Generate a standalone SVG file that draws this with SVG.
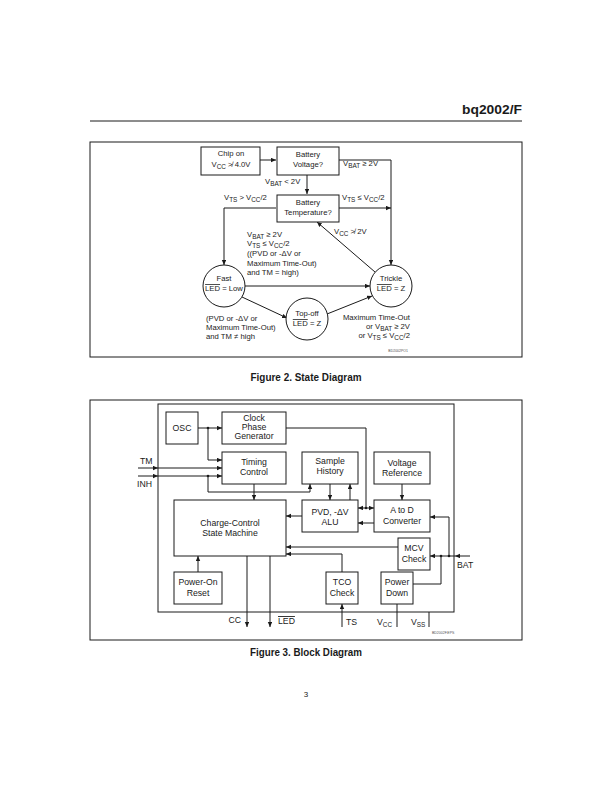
<svg xmlns="http://www.w3.org/2000/svg" width="612" height="792" viewBox="0 0 612 792">
<style>
text{font-family:"Liberation Sans",Arial,sans-serif;fill:#1a1a1a}
.s{font-size:7.7px}
.b{font-size:8.7px}
.c{text-anchor:middle}
.e{text-anchor:end}
.sub{font-size:6.4px}
.ol{text-decoration:overline}
.box{fill:#fff;stroke:#1a1a1a;stroke-width:1}
.frame{fill:none;stroke:#1a1a1a;stroke-width:1}
.w{fill:none;stroke:#1a1a1a;stroke-width:1}
.dot{fill:#1a1a1a}
.cap{font-weight:bold;font-size:10px;text-anchor:middle}
.tiny{font-size:3.5px;fill:#555}
</style>
<defs>
<marker id="a" markerUnits="userSpaceOnUse" markerWidth="6" markerHeight="6" refX="5" refY="2.2" orient="auto">
<path d="M0,0 L5,2.2 L0,4.4 z" fill="#1a1a1a"/>
</marker>
</defs>
<rect width="612" height="792" fill="#fff"/>

<g id="header">
<text x="522" y="114" font-size="13" font-weight="bold" text-anchor="end" textLength="60" lengthAdjust="spacingAndGlyphs">bq2002/F</text>
<line x1="90" y1="121" x2="522" y2="121" stroke="#1a1a1a" stroke-width="1"/>
</g>

<!-- Figure 2 -->
<rect class="frame" x="90" y="142" width="432" height="215"/>

<g id="connectors-fig2">
<path class="w" d="M260,160 H276" marker-end="url(#a)"/>
<path class="w" d="M338,160 H391 V265" marker-end="url(#a)"/>
<path class="w" d="M307,174 V194" marker-end="url(#a)"/>
<path class="w" d="M276,208 H224 V265" marker-end="url(#a)"/>
<path class="w" d="M338,208 H391" marker-end="url(#a)"/>
<path class="w" d="M245,286 H370" marker-end="url(#a)"/>
<path class="w" d="M375,272 L317,222" marker-end="url(#a)"/>
<path class="w" d="M242,297 L287,318" marker-end="url(#a)"/>
<path class="w" d="M327,314 L372,296" marker-end="url(#a)"/>
</g>

<g id="chipon">
<rect class="box" x="201" y="147" width="59" height="28"/>
<text class="s c" x="231" y="156">Chip on</text>
<text class="s c" x="231" y="167">V<tspan class="sub" dy="1.5">CC</tspan><tspan dy="-1.5"> ≯ 4.0V</tspan></text>
</g>
<g id="battvolt">
<rect class="box" x="277" y="147" width="62" height="28"/>
<text class="s c" x="308" y="157">Battery</text>
<text class="s c" x="308" y="167">Voltage?</text>
</g>
<g id="batttemp">
<rect class="box" x="277" y="195" width="62" height="27"/>
<text class="s c" x="308" y="205">Battery</text>
<text class="s c" x="308" y="215">Temperature?</text>
</g>
<g id="fast">
<circle class="box" cx="224" cy="286" r="21"/>
<text class="s c" x="224" y="281">Fast</text>
<text class="s c" x="224" y="291"><tspan class="ol">LED</tspan> = Low</text>
</g>
<g id="trickle">
<circle class="box" cx="391" cy="286" r="21"/>
<text class="s c" x="391" y="281">Trickle</text>
<text class="s c" x="391" y="291"><tspan class="ol">LED</tspan> = Z</text>
</g>
<g id="topoff">
<circle class="box" cx="307" cy="319" r="21"/>
<text class="s c" x="307" y="316">Top-off</text>
<text class="s c" x="307" y="326"><tspan class="ol">LED</tspan> = Z</text>
</g>

<g id="labels-fig2">
<text class="s" x="343" y="166">V<tspan class="sub" dy="1.5">BAT</tspan><tspan dy="-1.5"> ≥ 2V</tspan></text>
<text class="s" x="265" y="184">V<tspan class="sub" dy="1.5">BAT</tspan><tspan dy="-1.5"> &lt; 2V</tspan></text>
<text class="s" x="224" y="200">V<tspan class="sub" dy="1.5">TS</tspan><tspan dy="-1.5"> &gt; V</tspan><tspan class="sub" dy="1.5">CC</tspan><tspan dy="-1.5">/2</tspan></text>
<text class="s" x="342" y="200">V<tspan class="sub" dy="1.5">TS</tspan><tspan dy="-1.5"> ≤ V</tspan><tspan class="sub" dy="1.5">CC</tspan><tspan dy="-1.5">/2</tspan></text>
<text class="s" x="334" y="234">V<tspan class="sub" dy="1.5">CC</tspan><tspan dy="-1.5"> ≯ 2V</tspan></text>
<text class="s" x="247" y="237">V<tspan class="sub" dy="1.5">BAT</tspan><tspan dy="-1.5"> ≥ 2V</tspan></text>
<text class="s" x="247" y="246">V<tspan class="sub" dy="1.5">TS</tspan><tspan dy="-1.5"> ≤ V</tspan><tspan class="sub" dy="1.5">CC</tspan><tspan dy="-1.5">/2</tspan></text>
<text class="s" x="247" y="256">((PVD or -ΔV or</text>
<text class="s" x="247" y="266">Maximum Time-Out)</text>
<text class="s" x="247" y="275">and TM = high)</text>
<text class="s" x="206" y="321">(PVD or -ΔV or</text>
<text class="s" x="206" y="330">Maximum Time-Out)</text>
<text class="s" x="206" y="339">and TM ≠ high</text>
<text class="s e" x="410" y="320">Maximum Time-Out</text>
<text class="s e" x="410" y="329">or  V<tspan class="sub" dy="1.5">BAT</tspan><tspan dy="-1.5"> ≥ 2V</tspan></text>
<text class="s e" x="410" y="338">or V<tspan class="sub" dy="1.5">TS</tspan><tspan dy="-1.5"> ≤ V</tspan><tspan class="sub" dy="1.5">CC</tspan><tspan dy="-1.5">/2</tspan></text>
<text class="tiny e" x="408" y="352">BD2002PO1</text>
</g>

<text class="cap" x="306" y="381" textLength="111" lengthAdjust="spacingAndGlyphs">Figure 2. State Diagram</text>

<!-- Figure 3 -->
<rect class="frame" x="90" y="400" width="432" height="240"/>
<rect class="frame" x="158" y="404" width="296" height="208"/>

<g id="connectors-fig3">
<path class="w" d="M198,428 H222" marker-end="url(#a)"/>
<path class="w" d="M208,428 V460 H222" marker-end="url(#a)"/>
<circle class="dot" cx="208" cy="428" r="1.3"/>
<path class="w" d="M138,468 H158" marker-end="url(#a)"/>
<path class="w" d="M158,468 H222" marker-end="url(#a)"/>
<path class="w" d="M138,476 H158" marker-end="url(#a)"/>
<path class="w" d="M158,476 H222" marker-end="url(#a)"/>
<path class="w" d="M208,476 V492 H310 V484" marker-end="url(#a)"/>
<circle class="dot" cx="208" cy="476" r="1.3"/>
<path class="w" d="M286,428 H366 V508"/>
<path class="w" d="M366,508 H358" marker-end="url(#a)"/>
<path class="w" d="M366,508 H374" marker-end="url(#a)"/>
<circle class="dot" cx="366" cy="508" r="1.3"/>
<path class="w" d="M254,484 V500" marker-end="url(#a)"/>
<path class="w" d="M330,484 V500" marker-end="url(#a)"/>
<path class="w" d="M350,500 V484" marker-end="url(#a)"/>
<path class="w" d="M402,484 V500" marker-end="url(#a)"/>
<path class="w" d="M302,516 H286" marker-end="url(#a)"/>
<path class="w" d="M374,523 H358" marker-end="url(#a)"/>
<path class="w" d="M470,556 H455" marker-end="url(#a)"/>
<path class="w" d="M455,556 H430" marker-end="url(#a)"/>
<path class="w" d="M449,556 V517 H430" marker-end="url(#a)"/>
<path class="w" d="M441,556 V584 H413"/>
<circle class="dot" cx="449" cy="556" r="1.3"/>
<circle class="dot" cx="441" cy="556" r="1.3"/>
<path class="w" d="M398,547 H286" marker-end="url(#a)"/>
<path class="w" d="M342,572 V554 H286" marker-end="url(#a)"/>
<path class="w" d="M198,572 V556" marker-end="url(#a)"/>
<path class="w" d="M247,556 V627" marker-end="url(#a)"/>
<path class="w" d="M270,556 V627" marker-end="url(#a)"/>
<path class="w" d="M342,627 V604" marker-end="url(#a)"/>
<path class="w" d="M397,604 V627"/>
<path class="w" d="M429,612 V627"/>
</g>

<g id="osc">
<rect class="box" x="166" y="412" width="32" height="32"/>
<text class="b c" x="182" y="431">OSC</text>
</g>
<g id="cpg">
<rect class="box" x="222" y="412" width="64" height="32"/>
<text class="b c" x="254" y="421">Clock</text>
<text class="b c" x="254" y="430">Phase</text>
<text class="b c" x="254" y="439">Generator</text>
</g>
<g id="timing">
<rect class="box" x="222" y="452" width="64" height="32"/>
<text class="b c" x="254" y="465">Timing</text>
<text class="b c" x="254" y="475">Control</text>
</g>
<g id="sample">
<rect class="box" x="302" y="452" width="56" height="32"/>
<text class="b c" x="330" y="464">Sample</text>
<text class="b c" x="330" y="474">History</text>
</g>
<g id="vref">
<rect class="box" x="374" y="452" width="56" height="32"/>
<text class="b c" x="402" y="466">Voltage</text>
<text class="b c" x="402" y="476">Reference</text>
</g>
<g id="ccsm">
<rect class="box" x="174" y="500" width="112" height="56"/>
<text class="b c" x="230" y="526">Charge-Control</text>
<text class="b c" x="230" y="536">State Machine</text>
</g>
<g id="alu">
<rect class="box" x="302" y="500" width="56" height="32"/>
<text class="b c" x="330" y="515">PVD, -ΔV</text>
<text class="b c" x="330" y="525">ALU</text>
</g>
<g id="adc">
<rect class="box" x="374" y="500" width="56" height="32"/>
<text class="b c" x="402" y="513">A to D</text>
<text class="b c" x="402" y="524">Converter</text>
</g>
<g id="mcv">
<rect class="box" x="398" y="538" width="32" height="32"/>
<text class="b c" x="414" y="551">MCV</text>
<text class="b c" x="414" y="562">Check</text>
</g>
<g id="por">
<rect class="box" x="174" y="572" width="48" height="32"/>
<text class="b c" x="198" y="585">Power-On</text>
<text class="b c" x="198" y="596">Reset</text>
</g>
<g id="tco">
<rect class="box" x="326" y="572" width="32" height="32"/>
<text class="b c" x="342" y="585">TCO</text>
<text class="b c" x="342" y="596">Check</text>
</g>
<g id="pdown">
<rect class="box" x="381" y="572" width="32" height="32"/>
<text class="b c" x="397" y="585">Power</text>
<text class="b c" x="397" y="596">Down</text>
</g>

<g id="labels-fig3">
<text class="b" x="140" y="464">TM</text>
<text class="b" x="137" y="487">INH</text>
<text class="b" x="457" y="568">BAT</text>
<text class="b e" x="241" y="623">CC</text>
<text class="b" x="278" y="624"><tspan class="ol">LED</tspan></text>
<text class="b" x="346" y="625">TS</text>
<text class="b" x="377" y="625">V<tspan class="sub" font-size="7" dy="1.5">CC</tspan></text>
<text class="b" x="411" y="625">V<tspan class="sub" font-size="7" dy="1.5">SS</tspan></text>
<text class="tiny" x="432" y="634">BD2002F.EPS</text>
</g>

<text class="cap" x="306" y="656" textLength="112" lengthAdjust="spacingAndGlyphs">Figure 3. Block Diagram</text>

<text x="306" y="697" font-size="8" text-anchor="middle">3</text>
</svg>
